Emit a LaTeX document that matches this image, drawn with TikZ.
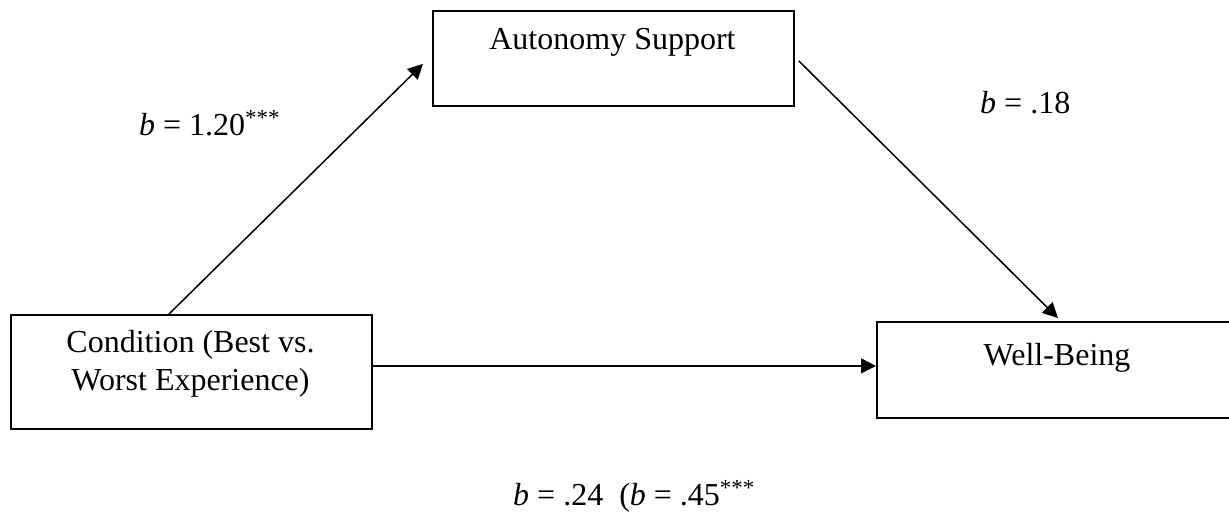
\documentclass[tikz,border=0pt]{standalone}
\usepackage{fontspec}
\setmainfont{Liberation Serif}
\usetikzlibrary{arrows.meta}
\newcommand{\starsup}[1]{\raisebox{10pt}{\fontsize{23}{23}\selectfont #1}}
\begin{document}
\begin{tikzpicture}[x=1pt,y=-1pt,
  box/.style={draw, line width=1.8pt, inner sep=0pt},
  conn/.style={line width=1.5pt, -{Triangle[length=15pt,width=15pt]}},
  txt/.style={font=\fontsize{32}{38}\selectfont, inner sep=0pt, anchor=base},
  lbl/.style={txt, anchor=base west}]
\useasboundingbox[fill=white] (0,0) rectangle (1229,523);
% boxes
\node[box, minimum width=361pt, minimum height=95pt, anchor=north west] (aut) at (432,10) {};
\node[box, minimum width=361pt, minimum height=114pt, anchor=north west] (cond) at (10,314) {};
\node[box, minimum width=362pt, minimum height=96pt, anchor=north west] (wb) at (876,321) {};
% texts
\node[txt] (autt) at (612.5,49) {Autonomy Support};
\node[txt] (c1) at (190.5,352) {Condition (Best vs.};
\node[txt] (c2) at (190.5,390) {Worst Experience)};
\node[txt] (wbt) at (1057,365) {Well-Being};
% labels
\node[lbl] (l1) at (139,135) {\textit{b} = 1.20\starsup{***}};
\node[lbl] (l2) at (980,113) {\textit{b} = .18};
\node[lbl] (l3) at (513,505) {\textit{b} = .24\ \ (\textit{b} = .45\starsup{***}};
% connectors
\coordinate (hin) at ([yshift=4pt]wb.west);
\draw[conn] ([xshift=159pt]cond.north west) -- ([xshift=-9pt,yshift=-5.5pt]aut.west);
\draw[conn] ([xshift=4pt,yshift=-2.5pt]aut.east) -- ([yshift=3pt]wb.north);
\draw[conn] (cond.east |- hin) -- (hin);
\end{tikzpicture}
\end{document}
